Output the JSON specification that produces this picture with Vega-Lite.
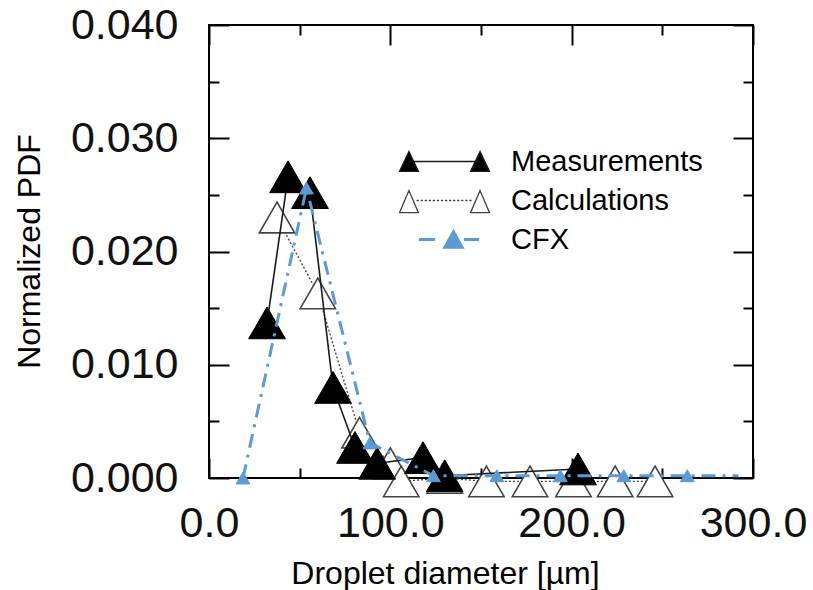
{
  "$schema": "https://vega.github.io/schema/vega-lite/v6.json",
  "width": 544,
  "height": 453,
  "autosize": {"type": "none"},
  "padding": {"left": 209, "top": 25, "right": 60, "bottom": 112},
  "background": "white",
  "config": {
    "font": "Liberation Sans",
    "view": {"stroke": "#000", "strokeWidth": 2},
    "axis": {"domain": false, "grid": false, "tickColor": "#000", "tickWidth": 2, "labelColor": "#111", "labelFont": "Liberation Sans", "labelFontSize": 43, "titleFont": "Liberation Sans", "titleFontSize": 32, "titleFontWeight": "normal", "titleColor": "#000", "labelOverlap": false, "labelFlush": false, "labelBound": false}
  },
  "data": {
    "values": [
      {"series": "Calculations", "x": 37.5, "y": 0.0230},
      {"series": "Calculations", "x": 60, "y": 0.0163},
      {"series": "Calculations", "x": 83, "y": 0.0040},
      {"series": "Calculations", "x": 100, "y": 0.0013},
      {"series": "Calculations", "x": 106, "y": -0.0003},
      {"series": "Calculations", "x": 130, "y": 0.0},
      {"series": "Calculations", "x": 153, "y": -0.0003},
      {"series": "Calculations", "x": 177, "y": -0.0003},
      {"series": "Calculations", "x": 201, "y": -0.0003},
      {"series": "Calculations", "x": 224, "y": -0.0003},
      {"series": "Calculations", "x": 246, "y": -0.0003},
      {"series": "Measurements", "x": 32, "y": 0.0137},
      {"series": "Measurements", "x": 43.6, "y": 0.0266},
      {"series": "Measurements", "x": 55.7, "y": 0.0252},
      {"series": "Measurements", "x": 68.4, "y": 0.0080},
      {"series": "Measurements", "x": 80.5, "y": 0.0027},
      {"series": "Measurements", "x": 92.7, "y": 0.0013},
      {"series": "Measurements", "x": 118, "y": 0.0018},
      {"series": "Measurements", "x": 130, "y": 0.0002},
      {"series": "Measurements", "x": 203.5, "y": 0.0008},
      {"series": "CFX", "x": 18.75, "y": 0.0},
      {"series": "CFX", "x": 53.75, "y": 0.0256},
      {"series": "CFX", "x": 88.75, "y": 0.0031},
      {"series": "CFX", "x": 123.75, "y": 0.0002},
      {"series": "CFX", "x": 158.75, "y": 0.0002},
      {"series": "CFX", "x": 193.75, "y": 0.0002},
      {"series": "CFX", "x": 228.75, "y": 0.0002},
      {"series": "CFX", "x": 263.75, "y": 0.0002},
      {"series": "CFX", "x": 292, "y": 0.0002}
    ]
  },
  "resolve": {"axis": {"x": "independent", "y": "independent"}},
  "layer": [
    {
      "transform": [{"filter": "datum.series === 'Calculations'"}],
      "mark": {"type": "line", "strokeDash": [2, 2], "strokeWidth": 1.3},
      "encoding": {
        "x": {"field": "x", "type": "quantitative", "scale": {"domain": [0, 300], "nice": false, "zero": false},
          "axis": {"orient": "bottom", "values": [0, 50, 100, 150, 200, 250, 300], "format": ".1f",
            "labelExpr": "datum.value % 100 === 0 ? format(datum.value, '.1f') : ''",
            "tickSize": {"condition": {"test": "datum.value % 100 === 0", "value": -20}, "value": -10},
            "labelPadding": 44, "title": "Droplet diameter [µm]", "titleX": 236, "titleY": 95, "titleAlign": "center", "titleBaseline": "middle"}},
        "y": {"field": "y", "type": "quantitative", "scale": {"domain": [0, 0.04], "nice": false, "zero": false},
          "axis": {"orient": "left", "values": [0, 0.005, 0.01, 0.015, 0.02, 0.025, 0.03, 0.035, 0.04],
            "labelExpr": "abs(datum.value * 100 - round(datum.value * 100)) < 0.001 ? format(datum.value, '.3f') : ''",
            "tickSize": {"condition": {"test": "abs(datum.value * 100 - round(datum.value * 100)) < 0.001", "value": -20}, "value": -10},
            "labelPadding": 51, "title": "Normalized PDF", "titleX": -180, "titleY": 226, "titleAlign": "center", "titleBaseline": "middle"}},
        "color": {"field": "series", "type": "nominal",
          "scale": {"domain": ["Measurements", "Calculations", "CFX"], "range": ["#1a1a1a", "#444444", "#5b9bd5"]},
          "legend": {
            "orient": "none", "legendX": 221, "legendY": 122, "title": null,
            "labelFontSize": 29, "labelColor": "#000", "labelFont": "Liberation Sans", "labelOffset": 52, "labelLimit": 400,
            "symbolSize": 8100, "rowPadding": 9,
            "encode": {
              "symbols": {
                "update": {
                  "size": {"value": 8100},
                  "shape": {"signal": "datum.value === 'Measurements' ? 'M-0.79,0 L0.79,0 M-0.79,-0.22 L-1,0.22 L-0.58,0.22 Z M0.79,-0.22 L0.58,0.22 L1,0.22 Z' : datum.value === 'Calculations' ? 'M-0.62,0 L-0.57,0 M-0.53,0 L-0.48,0 M-0.44,0 L-0.39,0 M-0.35,0 L-0.3,0 M-0.26,0 L-0.21,0 M-0.17,0 L-0.12,0 M-0.08,0 L-0.03,0 M0.01,0 L0.06,0 M0.1,0 L0.15,0 M0.19,0 L0.24,0 M0.28,0 L0.33,0 M0.37,0 L0.42,0 M0.46,0 L0.51,0 M0.55,0 L0.6,0 M-0.79,-0.22 L-1,0.27 L-0.58,0.27 Z M0.79,-0.22 L0.58,0.27 L1,0.27 Z' : 'M-0.57,0 L-0.21,0 M0.43,0 L0.77,0 M0.2,-0.17 L0.01,0.17 L0.39,0.17 Z'"},
                  "fill": {"signal": "datum.value === 'Measurements' ? '#000' : datum.value === 'Calculations' ? 'transparent' : '#5b9bd5'"},
                  "stroke": {"signal": "datum.value === 'Measurements' ? '#000' : datum.value === 'Calculations' ? '#444' : '#5b9bd5'"},
                  "strokeWidth": {"signal": "datum.value === 'CFX' ? 3 : 1.3"},
                  "strokeDash": {"value": []},
                  "opacity": {"value": 1}
                }
              }
            }
          }}
      }
    },
    {
      "transform": [{"filter": "datum.series === 'Calculations'"}],
      "mark": {"type": "point", "shape": "triangle-up", "filled": true, "fill": "white", "stroke": "#444", "strokeWidth": 1.6, "size": 1250, "opacity": 1},
      "encoding": {
        "x": {"field": "x", "type": "quantitative",
          "axis": {"orient": "top", "values": [0, 50, 100, 150, 200, 250, 300], "labels": false, "title": null,
            "tickSize": {"condition": {"test": "datum.value % 100 === 0", "value": -20}, "value": -10}}},
        "y": {"field": "y", "type": "quantitative",
          "axis": {"orient": "right", "values": [0, 0.005, 0.01, 0.015, 0.02, 0.025, 0.03, 0.035, 0.04], "labels": false, "title": null,
            "tickSize": {"condition": {"test": "abs(datum.value * 100 - round(datum.value * 100)) < 0.001", "value": -20}, "value": -10}}}
      }
    },
    {
      "transform": [{"filter": "datum.series === 'Measurements'"}],
      "mark": {"type": "line", "strokeWidth": 1.6},
      "encoding": {
        "x": {"field": "x", "type": "quantitative", "axis": null},
        "y": {"field": "y", "type": "quantitative", "axis": null},
        "color": {"field": "series", "type": "nominal"}
      }
    },
    {
      "transform": [{"filter": "datum.series === 'Measurements'"}],
      "mark": {"type": "point", "shape": "triangle-up", "filled": true, "fill": "#000", "stroke": "#000", "strokeWidth": 1, "size": 1350, "opacity": 1},
      "encoding": {
        "x": {"field": "x", "type": "quantitative", "axis": null},
        "y": {"field": "y", "type": "quantitative", "axis": null}
      }
    },
    {
      "transform": [{"filter": "datum.series === 'CFX'"}],
      "mark": {"type": "line", "strokeWidth": 3, "strokeDash": [14, 7, 3, 7]},
      "encoding": {
        "x": {"field": "x", "type": "quantitative", "axis": null},
        "y": {"field": "y", "type": "quantitative", "axis": null},
        "color": {"field": "series", "type": "nominal"}
      }
    },
    {
      "transform": [{"filter": "datum.series === 'CFX' && datum.x < 280"}],
      "mark": {"type": "point", "shape": "triangle-up", "filled": true, "fill": "#5b9bd5", "stroke": "#5b9bd5", "strokeWidth": 1, "size": 190, "opacity": 1},
      "encoding": {
        "x": {"field": "x", "type": "quantitative", "axis": null},
        "y": {"field": "y", "type": "quantitative", "axis": null}
      }
    }
  ]
}
